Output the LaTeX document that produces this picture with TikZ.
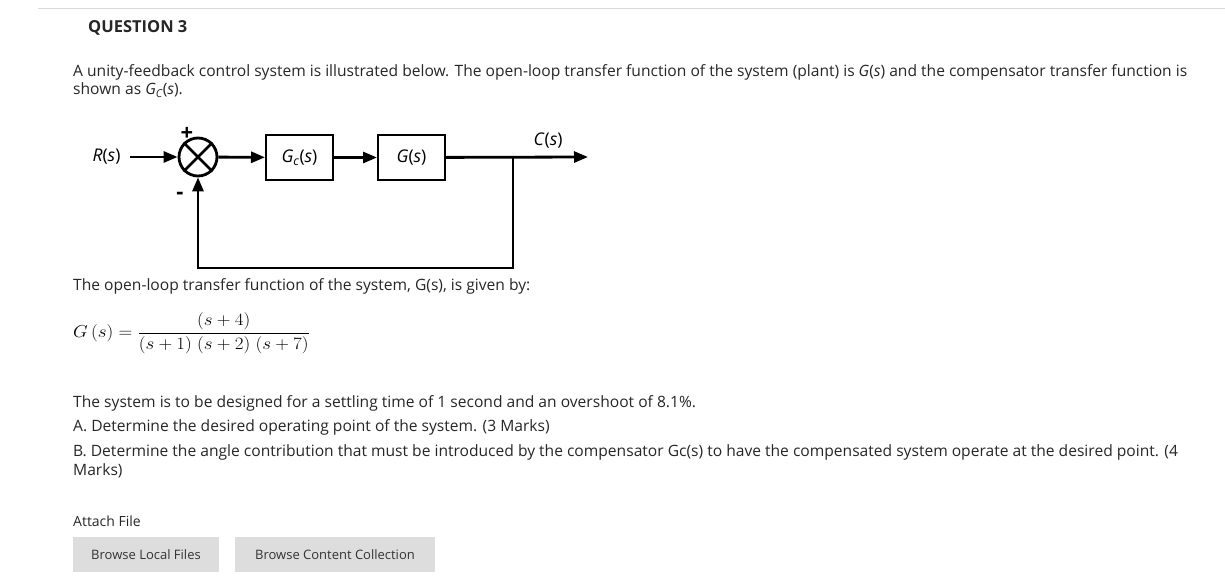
\documentclass[tikz,border=0pt]{standalone}
\usepackage{fontspec}
\setmainfont{Open Sans}
\usetikzlibrary{arrows.meta}
\definecolor{btn}{HTML}{DDDDDD}
\begin{document}
\begin{tikzpicture}[x=1pt,y=-1pt,
  txt/.style={anchor=west,inner sep=0pt,font=\fontsize{15.6}{18}\selectfont,text=black!85},
  lbl/.style={font=\fontsize{17.5}{20}\selectfont},
  blk/.style={draw,line width=2pt,minimum width=67pt,minimum height=45pt,lbl},
  sig/.style={line width=2.8pt,-{Triangle[length=14pt,width=11pt]}},
  btnbox/.style={fill=btn,inner sep=0pt,font=\fontsize{13}{15}\selectfont,text=black!80}]
\useasboundingbox (0,0) rectangle (1225,588);
\draw[black!15] (38,8) -- (1225,8);
\node[txt,font=\fontsize{16.5}{18}\selectfont\bfseries] (q) at (88,28) {QUESTION 3};
\node[txt] (p1) at (73,72) {A unity-feedback control system is illustrated below. The open-loop transfer function of the system (plant) is \textit{G}(\textit{s}) and the compensator transfer function is};
\node[txt] (p2) at (73,90) {shown as \textit{G\textsubscript{C}}(\textit{s}).};
% diagram
\node[lbl,anchor=east] (R) at (124,157) {\textit{R}(\textit{s})};
\node[draw,circle,line width=2.8pt,minimum size=38pt,inner sep=0pt] (sum) at (198,157) {};
\draw[line width=2.8pt] (sum.north west) -- (sum.south east) (sum.north east) -- (sum.south west);
\node[font=\fontsize{22}{24}\selectfont\bfseries] (plus) at (187,134) {+};
\node[font=\fontsize{22}{24}\selectfont\bfseries] (minus) at (180,196) {-};
\node[blk] (gc) at (299.5,157.5) {\textit{G\textsubscript{c}}(\textit{s})};
\node[blk] (g) at (411.5,157.5) {\textit{G}(\textit{s})};
\coordinate (out) at (588,157);
\coordinate (br) at (513,157);
\coordinate (bd) at (513,268);
\coordinate (bl) at (198,268);
\node[lbl] (C) at (548,141) {\textit{C}(\textit{s})};
\draw[sig] (R.east)++(6,0) -- (sum);
\draw[sig] (sum) -- (gc);
\draw[sig] (gc) -- (g);
\draw[sig] (g) -- (out);
\draw[sig] (br) -- (bd) -- (bl) -- (sum);
\node[txt] (t1) at (73,286) {The open-loop transfer function of the system, G(s), is given by:};
\node[anchor=west,inner sep=0pt,font=\fontsize{17}{20}\selectfont,xscale=1.1] (eq) at (73,333) {$G\,(s) = \displaystyle\frac{(s+4)}{(s+1)\;(s+2)\;(s+7)}$};
\node[txt] (t2) at (73,403) {The system is to be designed for a settling time of 1 second and an overshoot of 8.1\%.};
\node[txt] (t3) at (73,427) {A. Determine the desired operating point of the system. (3 Marks)};
\node[txt] (t4) at (73,452) {B. Determine the angle contribution that must be introduced by the compensator Gc(s) to have the compensated system operate at the desired point. (4};
\node[txt] (t5) at (73,471) {Marks)};
\node[txt,font=\fontsize{14}{16}\selectfont] (af) at (73,521) {Attach File};
\node[btnbox,minimum width=146pt,minimum height=35pt] (b1) at (146,554.5) {Browse Local Files};
\node[btnbox,minimum width=200pt,minimum height=35pt] (b2) at (335,554.5) {Browse Content Collection};
\end{tikzpicture}
\end{document}
